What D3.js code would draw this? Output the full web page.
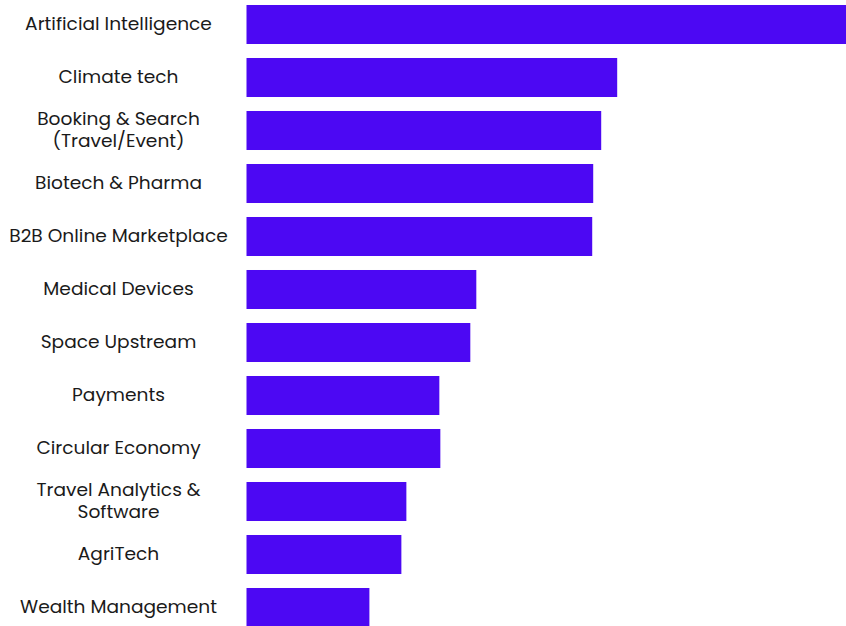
<!DOCTYPE html>
<html>
<head>
<meta charset="utf-8">
<script src="https://cdn.jsdelivr.net/npm/d3@7"></script>
<style>
  html, body { margin: 0; padding: 0; background: #fff; }
  svg { display: block; }
</style>
</head>
<body>
<svg id="chart" width="846" height="626"></svg>
<script>
// Sectors, top to bottom
const categories = [
  ["Artificial Intelligence"],
  ["Climate tech"],
  ["Booking & Search", "(Travel/Event)"],
  ["Biotech & Pharma"],
  ["B2B Online Marketplace"],
  ["Medical Devices"],
  ["Space Upstream"],
  ["Payments"],
  ["Circular Economy"],
  ["Travel Analytics &", "Software"],
  ["AgriTech"],
  ["Wealth Management"]
];
// Bar values per sector
const values = [600, 371, 355, 347, 346, 230, 224, 193, 194, 160, 155, 123];

const barColor = "#4c08f3";
const textColor = "#1a1a1a";

const svg = d3.select("#chart");
const keys = categories.map(c => c.join(" "));

const x = d3.scaleLinear().domain([0, 600]).range([246.5, 846]);
const y = d3.scaleBand().domain(keys).range([-2, 634])
  .paddingInner(0.264).paddingOuter(0.132);

svg.append("g").selectAll("rect")
  .data(values)
  .join("rect")
  .attr("x", x(0))
  .attr("y", (d, i) => y(keys[i]))
  .attr("width", d => x(d) - x(0))
  .attr("height", y.bandwidth())
  .attr("fill", barColor);

const lineH = 22;
const labels = svg.append("g")
  .attr("font-family", "Poppins, 'Open Sans', sans-serif")
  .attr("font-size", 18.6)
  .attr("fill", textColor)
  .attr("text-anchor", "middle");

categories.forEach((lines, i) => {
  const cy = y(keys[i]) + y.bandwidth() / 2;
  const t = labels.append("text")
    .attr("x", 118.5)
    .attr("y", cy - (lines.length - 1) * lineH / 2);
  lines.forEach((ln, j) => {
    t.append("tspan")
      .attr("x", 118.5)
      .attr("dy", j === 0 ? "0.3em" : lineH)
      .text(ln);
  });
});
</script>
</body>
</html>
